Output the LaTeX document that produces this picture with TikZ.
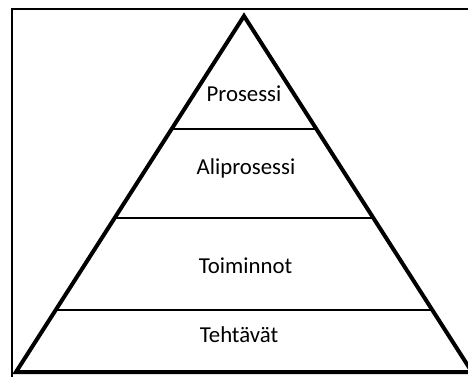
\documentclass[tikz,border=0pt]{standalone}
\usepackage{fontspec}
\setmainfont{Carlito}
\usetikzlibrary{calc}
\begin{document}
\begin{tikzpicture}[x=1pt,y=-1pt,
  edge/.style={line width=4pt,line join=miter},
  divider/.style={line width=1.4pt},
  frame/.style={line width=1.4pt},
  layer/.style={anchor=base,inner sep=0pt,font=\fontsize{22.8}{26}\selectfont}]
  \useasboundingbox (0,0) rectangle (468,376);
  \clip (0,0) rectangle (468,376);
  % outer frame
  \draw[frame] (12,9) rectangle (480,390);
  % pyramid corners
  \coordinate (apex) at (244,16);
  \coordinate (bl) at (16,372);
  \coordinate (br) at (472,372);
  % level dividers
  \coordinate (d1l) at ($(apex)!0.3174!(bl)$);
  \coordinate (d1r) at ($(apex)!0.3174!(br)$);
  \coordinate (d2l) at ($(apex)!0.5674!(bl)$);
  \coordinate (d2r) at ($(apex)!0.5674!(br)$);
  \coordinate (d3l) at ($(apex)!0.8258!(bl)$);
  \coordinate (d3r) at ($(apex)!0.8258!(br)$);
  \draw[divider] (d1l) -- (d1r);
  \draw[divider] (d2l) -- (d2r);
  \draw[divider] (d3l) -- (d3r);
  % pyramid outline
  \draw[edge] (apex) -- (bl) -- (br) -- cycle;
  % level labels
  \node[layer] (prosessi) at (244,101.5) {Prosessi};
  \node[layer] (aliprosessi) at (246,174) {Aliprosessi};
  \node[layer] (toiminnot) at (245.5,273) {Toiminnot};
  \node[layer] (tehtavat) at (239,342) {Tehtävät};
\end{tikzpicture}
\end{document}
